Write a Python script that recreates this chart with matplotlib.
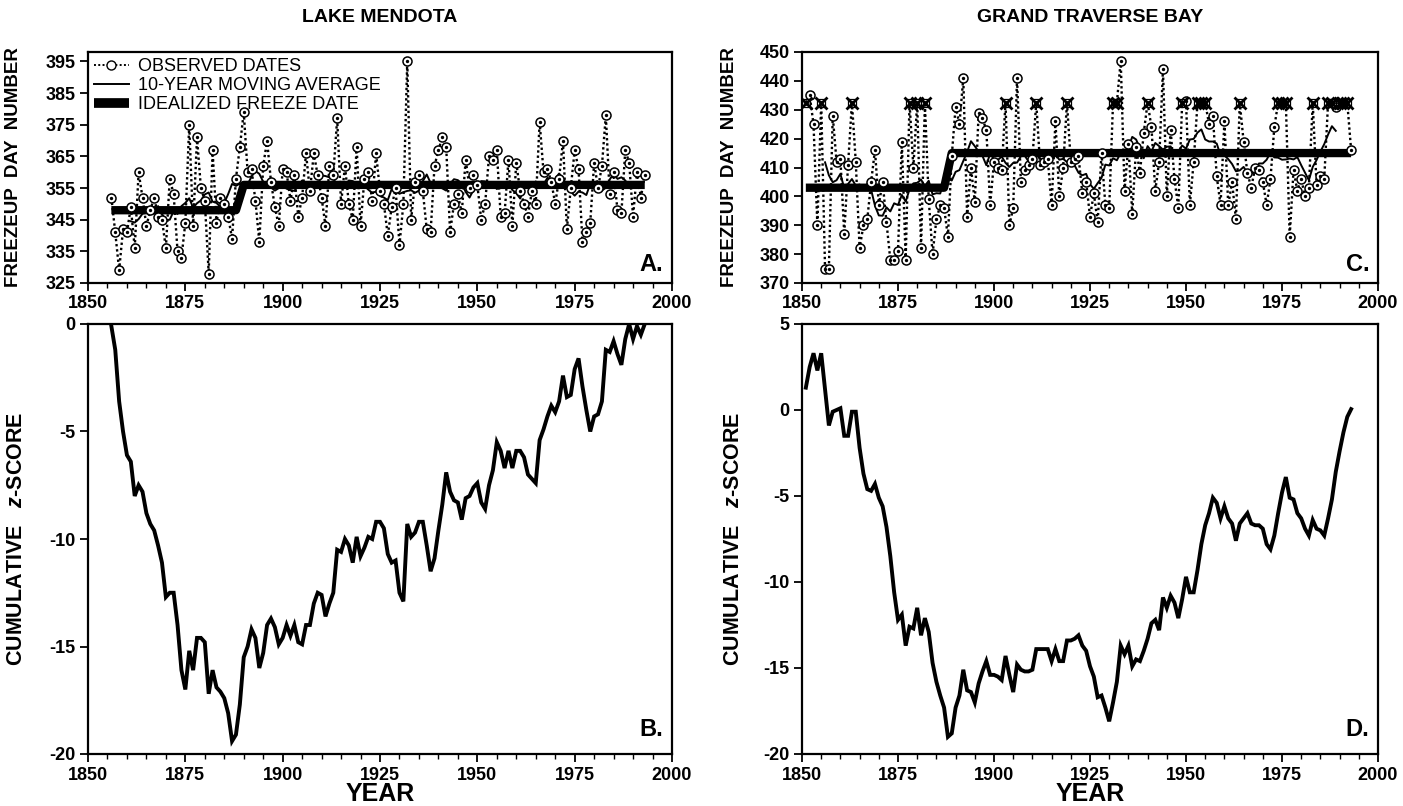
import numpy as np
import matplotlib
matplotlib.use("Agg")
import matplotlib.pyplot as plt
from matplotlib.lines import Line2D
from matplotlib.ticker import MultipleLocator, FixedLocator

plt.rcParams["font.family"] = ["Liberation Sans", "DejaVu Sans"]
plt.rcParams["axes.unicode_minus"] = False
plt.rcParams["mathtext.fontset"] = "custom"
plt.rcParams["mathtext.it"] = "Liberation Sans:italic:bold"
plt.rcParams["mathtext.rm"] = "Liberation Sans:bold"

# ---- Lake Mendota (1856-1993) ----
mendota_years = list(range(1856, 1994))
mendota_freeze = [
    352, 341, 329, 342, 341, 349, 336, 360, 352, 343,
    348, 352, 346, 345, 336, 358, 353, 335, 333, 344,
    375, 343, 371, 355, 351, 328, 367, 344, 352, 350,
    346, 339, 358, 368, 379, 360, 361, 351, 338, 362,
    370, 357, 349, 343, 361, 360, 351, 359, 346, 352,
    366, 354, 366, 359, 352, 343, 362, 359, 377, 350,
    362, 350, 345, 368, 343, 358, 360, 351, 366, 354,
    350, 340, 349, 355, 337, 350, 395, 345, 357, 359,
    354, 342, 341, 362, 367, 371, 368, 341, 350, 353,
    347, 364, 355, 359, 356, 345, 350, 365, 364, 367,
    346, 347, 364, 343, 363, 354, 350, 346, 354, 350,
    376, 360, 361, 357, 350, 358, 370, 342, 355, 367,
    361, 338, 341, 344, 363, 355, 362, 378, 353, 360,
    348, 347, 367, 363, 346, 360, 352, 359,
]
mendota_ma_years = list(range(1861, 1990))
mendota_ma = [
    344.5, 344.1, 345.2, 346.9, 347.2, 346.7, 347.6, 349.3, 346.8, 344.9,
    345.0, 347.7, 346.8, 349.3, 350.3, 351.8, 348.8, 350.2, 351.1, 353.0,
    353.6, 350.7, 350.3, 349.0, 350.3, 353.1, 356.3, 355.7, 356.4, 355.0,
    356.2, 358.6, 360.4, 359.5, 357.0, 355.2, 355.2, 354.2, 355.0, 355.8,
    354.8, 354.4, 354.1, 355.8, 357.4, 356.5, 354.8, 355.9, 355.9, 359.0,
    358.8, 358.4, 358.0, 355.9, 356.8, 355.9, 357.4, 357.2, 356.4, 355.3,
    355.7, 354.5, 353.5, 353.9, 352.6, 352.0, 351.2, 354.7, 354.1, 353.2,
    353.7, 354.1, 354.3, 353.5, 354.2, 357.2, 359.3, 356.6, 356.2, 355.5,
    354.9, 354.2, 356.4, 357.8, 357.5, 356.4, 353.8, 352.0, 354.4, 355.8,
    357.2, 357.1, 355.4, 356.3, 354.7, 355.4, 356.3, 356.3, 354.4, 353.4,
    351.7, 354.7, 356.0, 355.7, 357.1, 355.8, 356.2, 358.2, 357.8, 357.9,
    359.6, 358.1, 355.9, 353.9, 352.6, 353.9, 353.6, 352.8, 356.4, 356.2,
    355.5, 354.2, 355.1, 357.7, 359.6, 357.9, 358.4, 357.4, 355.5,
]
mendota_ideal_years = [1856, 1888, 1890, 1993]
mendota_ideal = [348, 348, 356, 356]
mendota_cum_z = [
    -0.1, -1.2, -3.6, -5.0, -6.1, -6.4, -8.0, -7.5, -7.8, -8.8,
    -9.3, -9.6, -10.3, -11.1, -12.7, -12.5, -12.5, -14.0, -16.1, -17.0,
    -15.2, -16.1, -14.6, -14.6, -14.8, -17.2, -16.1, -16.9, -17.1, -17.4,
    -18.1, -19.4, -19.1, -17.7, -15.5, -15.0, -14.2, -14.6, -16.0, -15.3,
    -14.0, -13.7, -14.1, -14.9, -14.6, -14.0, -14.5, -14.0, -14.8, -14.9,
    -14.0, -14.0, -13.0, -12.5, -12.6, -13.6, -13.0, -12.5, -10.5, -10.6,
    -10.0, -10.3, -11.1, -9.9, -10.8, -10.4, -9.9, -10.0, -9.2, -9.2,
    -9.5, -10.7, -11.1, -11.0, -12.5, -12.9, -9.3, -9.9, -9.7, -9.2,
    -9.2, -10.3, -11.5, -10.9, -9.6, -8.4, -6.9, -7.8, -8.2, -8.3,
    -9.1, -8.1, -8.0, -7.6, -7.4, -8.3, -8.6, -7.5, -6.8, -5.5,
    -5.9, -6.7, -5.9, -6.7, -5.9, -5.9, -6.2, -7.0, -7.2, -7.4,
    -5.4, -4.9, -4.3, -3.8, -4.1, -3.6, -2.4, -3.4, -3.3, -2.1,
    -1.6, -2.9, -4.0, -5.0, -4.3, -4.2, -3.6, -1.2, -1.3, -0.8,
    -1.4, -1.9, -0.7, 0.0, -0.7, -0.1, -0.5, 0.0,
]

# ---- Grand Traverse Bay (1851-1993), nan = no freeze that winter ----
nan = np.nan
gtb_years = list(range(1851, 1994))
gtb_freeze = [
    nan, 435, 425, 390, nan, 375, 375, 428, 412, 413,
    387, 411, nan, 412, 382, 390, 392, 405, 416, 397,
    405, 391, 378, 378, 381, 419, 378, nan, 410, nan,
    382, nan, 399, 380, 392, 397, 396, 386, 414, 431,
    425, 441, 393, 410, 398, 429, 427, 423, 397, 412,
    410, 409, nan, 390, 396, 441, 405, 409, 411, 413,
    nan, 411, 412, 413, 397, 426, 400, 410, nan, 412,
    413, 414, 401, 405, 393, 401, 391, 415, 397, 396,
    nan, nan, 447, 402, 418, 394, 417, 408, 422, nan,
    424, 402, 412, 444, 400, 423, 406, 396, nan, 433,
    397, 412, nan, nan, nan, 425, 428, 407, 397, 426,
    397, 405, 392, nan, 419, 408, 403, 410, 409, 405,
    397, 406, 424, nan, nan, nan, 386, 409, 402, 406,
    400, 403, nan, 404, 407, 406, nan, nan, 431, nan,
    nan, nan, 416,
]
gtb_open_level = 432.5
gtb_ma_years = list(range(1856, 1990))
gtb_ma = [
    411.8, 407.3, 404.9, 405.6, 407.8, 402.8, 404.3, 406.0, 403.7, 404.1,
    402.5, 404.3, 402.3, 396.8, 393.4, 393.3, 396.2, 394.8, 397.6, 397.0,
    400.5, 398.2, 402.4, 404.5, 404.7, 405.8, 403.6, 405.4, 400.7, 401.1,
    401.0, 405.3, 406.1, 405.5, 408.5, 409.1, 412.3, 415.4, 419.1, 417.4,
    415.5, 414.0, 410.8, 414.8, 412.8, 412.6, 413.8, 411.6, 410.2, 411.6,
    411.7, 413.9, 414.1, 412.1, 414.4, 414.5, 413.0, 412.5, 412.6, 414.7,
    414.6, 412.7, 413.0, 411.9, 411.1, 410.7, 408.2, 407.3, 407.8, 404.2,
    402.6, 404.6, 406.4, 411.0, 410.7, 413.2, 412.5, 415.1, 414.4, 416.9,
    420.6, 419.7, 416.7, 413.2, 417.4, 415.6, 418.5, 417.4, 416.2, 417.2,
    417.3, 414.6, 415.6, 417.6, 416.5, 419.7, 419.9, 422.1, 423.2, 419.7,
    419.0, 419.0, 418.3, 414.2, 414.2, 412.9, 411.2, 408.7, 409.0, 410.2,
    408.1, 408.1, 408.2, 411.4, 411.4, 412.7, 415.2, 413.5, 413.4, 412.7,
    412.8, 413.1, 412.8, 413.6, 410.8, 408.2, 405.6, 410.2, 412.6, 415.5,
    418.1, 421.4, 424.3, 422.7,
]
gtb_ideal_years = [1851, 1887, 1889, 1993]
gtb_ideal = [403, 403, 415, 415]
gtb_cum_z = [
    1.3, 2.5, 3.3, 2.3, 3.3, 1.2, -0.9, -0.1, 0.0, 0.1,
    -1.5, -1.5, -0.1, -0.1, -2.2, -3.7, -4.6, -4.7, -4.3, -5.1,
    -5.6, -6.8, -8.5, -10.6, -12.2, -11.9, -13.7, -12.6, -12.7, -11.5,
    -13.1, -12.1, -12.9, -14.7, -15.8, -16.6, -17.3, -19.0, -18.8, -17.3,
    -16.6, -15.1, -16.3, -16.4, -17.0, -15.9, -15.2, -14.6, -15.4, -15.4,
    -15.5, -15.7, -14.3, -15.4, -16.4, -14.8, -15.1, -15.2, -15.2, -15.1,
    -13.9, -13.9, -13.9, -13.9, -14.6, -13.9, -14.6, -14.6, -13.4, -13.4,
    -13.3, -13.1, -13.7, -14.0, -14.9, -15.5, -16.7, -16.6, -17.3, -18.1,
    -17.0, -15.8, -13.7, -14.2, -13.7, -14.9, -14.5, -14.6, -14.0, -13.3,
    -12.4, -12.2, -12.8, -10.9, -11.5, -10.8, -11.2, -12.1, -11.0, -9.7,
    -10.6, -10.6, -9.3, -7.8, -6.7, -6.0, -5.1, -5.4, -6.3, -5.6,
    -6.3, -6.6, -7.6, -6.6, -6.3, -6.0, -6.6, -6.7, -6.7, -6.9,
    -7.8, -8.1, -7.3, -6.0, -4.8, -3.9, -5.1, -5.2, -6.0, -6.3,
    -6.9, -7.3, -6.4, -6.9, -7.0, -7.3, -6.3, -5.2, -3.6, -2.4,
    -1.3, -0.4, 0.05,
]

W, H = 1403, 806


def px_box(left, top, right, bottom):
    """Axes rectangle in figure fractions from pixel edges."""
    return [left / W, 1 - bottom / H, (right - left) / W, (bottom - top) / H]


def style_axes(ax, ylim, yticks):
    ax.set_xlim(1850, 2000)
    ax.set_ylim(*ylim)
    ax.xaxis.set_major_locator(MultipleLocator(25))
    ax.xaxis.set_minor_locator(MultipleLocator(5))
    ax.yaxis.set_major_locator(FixedLocator(yticks))
    ax.tick_params(which="major", direction="out", length=6, width=1.3, pad=3,
                   labelsize=13)
    ax.tick_params(which="minor", direction="out", length=3.5, width=1.0)
    ax.tick_params(top=False, right=False)
    for lab in ax.get_xticklabels() + ax.get_yticklabels():
        lab.set_fontweight("bold")
    for sp in ax.spines.values():
        sp.set_linewidth(1.6)


def panel_letter(ax, letter):
    ax.text(0.985, 0.03, letter, transform=ax.transAxes, ha="right", va="bottom",
            fontsize=17, fontweight="bold")


def draw_freeze_panel(ax, years, freeze, ma_years, ma, ideal_years, ideal,
                      open_level=None):
    years = np.asarray(years)
    freeze = np.asarray(freeze, dtype=float)
    is_open = np.isnan(freeze)
    line_vals = np.where(is_open, open_level if open_level else np.nan, freeze)

    ax.plot(years, line_vals, color="black", lw=1.7, ls=(0, (1, 1.2)), zorder=2)
    ax.plot(ma_years, ma, color="black", lw=1.4, zorder=3)
    ax.plot(ideal_years, ideal, color="black", lw=6, solid_capstyle="butt",
            zorder=4)
    ax.plot(years[~is_open], freeze[~is_open], ls="none", marker="o", ms=6.5,
            mfc="white", mec="black", mew=1.1, zorder=5)
    ax.plot(years[~is_open], freeze[~is_open], ls="none", marker="o", ms=1.4,
            color="black", zorder=6)
    if open_level is not None:
        ax.plot(years[is_open], line_vals[is_open], ls="none", marker="s", ms=6,
                mfc="none", mec="black", mew=0.9, zorder=5)
        ax.plot(years[is_open], line_vals[is_open], ls="none", marker="x", ms=8.5,
                mec="black", mew=2.0, zorder=6)


def draw_cumulative_panel(ax, years, cum_z):
    ax.plot(years, cum_z, color="black", lw=2.8, solid_joinstyle="miter")


fig = plt.figure(figsize=(W / 100, H / 100), dpi=100)

ax_a = fig.add_axes(px_box(88, 52, 672, 283))
ax_b = fig.add_axes(px_box(88, 324, 672, 754))
ax_c = fig.add_axes(px_box(802, 52, 1378, 283))
ax_d = fig.add_axes(px_box(802, 324, 1378, 754))

draw_freeze_panel(ax_a, mendota_years, mendota_freeze, mendota_ma_years,
                  mendota_ma, mendota_ideal_years, mendota_ideal)
draw_freeze_panel(ax_c, gtb_years, gtb_freeze, gtb_ma_years, gtb_ma,
                  gtb_ideal_years, gtb_ideal, open_level=gtb_open_level)
draw_cumulative_panel(ax_b, mendota_years, mendota_cum_z)
draw_cumulative_panel(ax_d, gtb_years, gtb_cum_z)

style_axes(ax_a, (325, 398), range(325, 396, 10))
style_axes(ax_c, (370, 450), range(370, 451, 10))
style_axes(ax_b, (-20, 0), range(-20, 1, 5))
style_axes(ax_d, (-20, 5), range(-20, 6, 5))

for ax, letter in zip([ax_a, ax_b, ax_c, ax_d], ["A.", "B.", "C.", "D."]):
    panel_letter(ax, letter)

# legend in panel A
handles = [
    Line2D([0], [0], color="black", lw=1.4, ls=(0, (1, 1.2)), marker="o", ms=6.5,
           mfc="white", mec="black", mew=1.0),
    Line2D([0], [0], color="black", lw=1.4),
    Line2D([0], [0], color="black", lw=7, solid_capstyle="butt"),
]
labels = ["OBSERVED DATES", "10-YEAR MOVING AVERAGE", "IDEALIZED FREEZE DATE"]
ax_a.legend(handles, labels, loc="upper left", frameon=False, fontsize=13,
            handlelength=1.9, handletextpad=0.5, labelspacing=0.1,
            borderaxespad=0.1, borderpad=0.25)

# axis labels
for ax, xpos in ((ax_a, -0.113), (ax_c, -0.111)):
    ax.set_ylabel("FREEZEUP  DAY  NUMBER", fontsize=13.5, fontweight="bold")
    ax.yaxis.set_label_coords(xpos, 0.5)
for ax, xpos in ((ax_b, -0.105), (ax_d, -0.1)):
    ax.set_ylabel("CUMULATIVE   $z$-SCORE", fontsize=15.5, fontweight="bold")
    ax.yaxis.set_label_coords(xpos, 0.5)

fig.text(380 / W, 1 - 18 / H, "LAKE MENDOTA", ha="center", va="center",
         fontsize=14, fontweight="bold")
fig.text(1090 / W, 1 - 18 / H, "GRAND TRAVERSE BAY", ha="center", va="center",
         fontsize=14, fontweight="bold")
fig.text(380 / W, 1 - 794 / H, "YEAR", ha="center", va="center",
         fontsize=18, fontweight="bold")
fig.text(1090 / W, 1 - 794 / H, "YEAR", ha="center", va="center",
         fontsize=18, fontweight="bold")

fig.savefig("out.png", dpi=100)
plt.close(fig)
